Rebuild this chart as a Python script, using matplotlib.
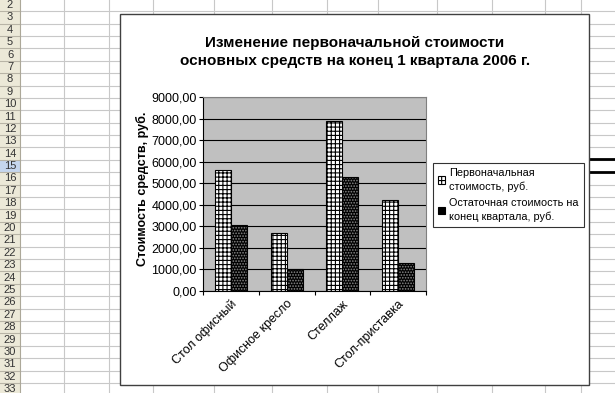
import numpy as np
import matplotlib
matplotlib.use("Agg")
import matplotlib.pyplot as plt
from matplotlib.patches import Rectangle, Patch
from matplotlib.lines import Line2D
from matplotlib.ticker import FuncFormatter, FixedLocator

# data
categories = ["Стол офисный", "Офисное кресло", "Стеллаж", "Стол-приставка"]
initial_cost = [5600, 2700, 7900, 4200]
residual_cost = [3080, 1000, 5270, 1300]
series_labels = ["Первоначальная\nстоимость, руб.",
                 "Остаточная стоимость на\nконец квартала, руб."]
title = "Изменение первоначальной стоимости\nосновных средств на конец 1 квартала 2006 г."
ylabel = "Стоимость средств, руб."
row_numbers = list(range(2, 34))

plt.rcParams['font.family'] = ['Liberation Sans', 'DejaVu Sans']
plt.rcParams['hatch.linewidth'] = 0.8

W, H = 615, 393
fig = plt.figure(figsize=(W / 100, H / 100), dpi=100)

def fx(x):
    return x / W

def fy(y):
    return 1 - y / H

# --- spreadsheet background ---
row_h = 12.39
row_top0 = -1.2
grid_col = '#C8C8C8'
for n in range(2, 35):
    y = row_top0 + (n - 2) * row_h
    fig.add_artist(Line2D([0, 1], [fy(y), fy(y)], color=grid_col, lw=0.8, zorder=-5))
for x in [64, 109, 153, 214, 272, 327, 378, 437, 492, 545, 581]:
    fig.add_artist(Line2D([fx(x), fx(x)], [0, 1], color=grid_col, lw=0.8, zorder=-5))

fig.add_artist(Rectangle((0, 0), fx(20), 1, transform=fig.transFigure,
                         facecolor='#ECE9D8', edgecolor='none', zorder=-4))
for n in row_numbers:
    y0 = row_top0 + (n - 2) * row_h
    if n == 15:
        fig.add_artist(Rectangle((0, fy(y0 + row_h)), fx(20), row_h / H,
                                 transform=fig.transFigure, facecolor='#C5D6EE',
                                 edgecolor='none', zorder=-3.5))
    fig.add_artist(Line2D([0, fx(20)], [fy(y0), fy(y0)], color='#B8B4A6', lw=0.8, zorder=-3))
    fig.text(fx(10), fy(y0 + row_h / 2), str(n), ha='center', va='center',
             fontsize=8, color='#333333', zorder=-3)
fig.add_artist(Line2D([fx(20), fx(20)], [0, 1], color='#ACA899', lw=0.8, zorder=-3))

# two thick lines at the right edge
for y in [159, 172]:
    fig.add_artist(Line2D([fx(590), 1], [fy(y), fy(y)], color='black', lw=2, zorder=-3))

# chart area
fig.add_artist(Rectangle((fx(120), fy(385)), fx(589) - fx(120), fy(14) - fy(385),
                         transform=fig.transFigure, facecolor='white',
                         edgecolor='#404040', lw=1, zorder=-2))

fig.text(fx(355), fy(52), title, ha='center', va='center', fontsize=11,
         fontweight='bold', linespacing=1.3)

# --- plot area ---
ax = fig.add_axes([fx(203), fy(291), fx(426) - fx(203), fy(97) - fy(291)])
ax.set_facecolor('#C0C0C0')

x = np.arange(len(categories))
w = 1 / 3.5

ax.bar(x - w / 2, initial_cost, w, facecolor='white', edgecolor='black',
       hatch='++++', lw=0.8, zorder=3)
ax.bar(x + w / 2, residual_cost, w, facecolor='black', edgecolor='#8A8A8A',
       hatch='......', lw=0, zorder=3)
ax.bar(x + w / 2, residual_cost, w, fill=False, edgecolor='black', lw=0.8, zorder=4)

ax.set_xlim(-0.5, len(categories) - 0.5)
ax.set_ylim(0, 9000)
ax.set_yticks(np.arange(0, 9001, 1000))
ax.yaxis.set_major_formatter(FuncFormatter(lambda v, p: f"{v:.2f}".replace('.', ',')))
ax.grid(axis='y', color='black', lw=0.8, zorder=1)
ax.set_axisbelow(True)

ax.xaxis.set_major_locator(FixedLocator(np.arange(-0.5, len(categories), 1.0)))
ax.xaxis.set_major_formatter(FuncFormatter(lambda v, p: ""))
ax.xaxis.set_minor_locator(FixedLocator(x))
ax.set_xticks(x, categories, minor=True)
ax.tick_params(axis='x', which='major', direction='out', length=3, width=0.8)
ax.tick_params(axis='x', which='minor', length=0, pad=5, labelsize=9)
for t in ax.get_xticklabels(minor=True):
    t.set_rotation(45)
    t.set_ha('right')
    t.set_va('top')
    t.set_rotation_mode('anchor')
ax.tick_params(axis='y', direction='out', length=3, width=0.8, pad=1.5, labelsize=9)

for s in ['left', 'bottom']:
    ax.spines[s].set_color('black')
    ax.spines[s].set_linewidth(0.8)
for s in ['top', 'right']:
    ax.spines[s].set_color('#808080')
    ax.spines[s].set_linewidth(0.8)

ax.set_ylabel(ylabel, fontsize=9, fontweight='bold')
ax.yaxis.set_label_coords((142 - 203) / 223, (291 - 188.5) / 194)
ax.yaxis.label.set_va('center')

handles = [Patch(facecolor='white', edgecolor='black', hatch='+++', lw=0.8),
           Patch(facecolor='black', edgecolor='black', lw=0.8)]
leg = ax.legend(handles, series_labels, loc='upper left',
                bbox_to_anchor=(fx(433), fy(163)), bbox_transform=fig.transFigure,
                fontsize=7.8, frameon=True, fancybox=False, borderaxespad=0,
                handlelength=0.7, handleheight=0.7, handletextpad=0.35,
                borderpad=0.45, labelspacing=0.6)
for t in leg.get_texts():
    t.set_linespacing(1.4)
leg.get_frame().set_edgecolor('black')
leg.get_frame().set_linewidth(0.8)

fig.savefig('out.png', dpi=100)
